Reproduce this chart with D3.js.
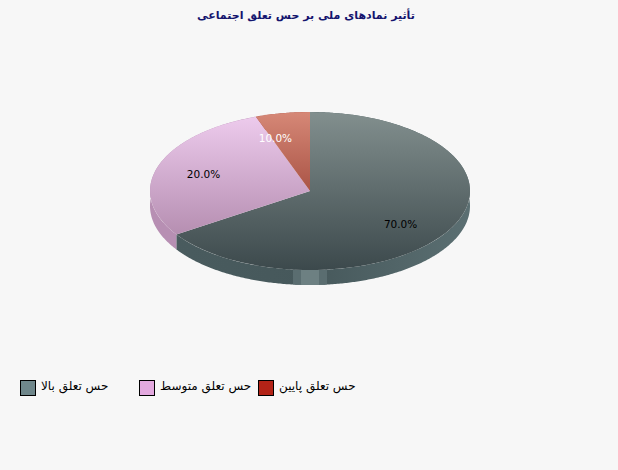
<!DOCTYPE html>
<html lang="fa">
<head>
<meta charset="UTF-8">
<title>Pie</title>
<script src="https://cdnjs.cloudflare.com/ajax/libs/d3/7.8.5/d3.min.js"></script>
<style>
    html, body { margin: 0; padding: 0; background: #f7f7f7; }
    svg { display: block; }
    text { font-family: "DejaVu Sans", sans-serif; }
</style>
</head>
<body>
<svg id="chart" width="618" height="470"></svg>
<script>
    const chartTitle = "تأثیر نمادهای ملی بر حس تعلق اجتماعی";
    const categories = ["حس تعلق بالا", "حس تعلق متوسط", "حس تعلق پایین"];
    const values = [70, 20, 10];
    const swatchColors = ["#6f878b", "#e3a9df", "#b32317"];
    const topStops = [["#828f8e", "#3c494c"], ["#efcdef", "#a57c9f"], ["#d68877", "#7e2015"]];
    const sideStops = [["#4a5c5f", "#46585b", "#5b6f72"], ["#b78fb3", "#b78fb3", "#b78fb3"], ["#a84f42", "#a84f42", "#a84f42"]];
    const labelColors = ["#000", "#000", "#fff"];

    const svg = d3.select("#chart");
    const cx = 310, cy = 191, rx = 160, ry = 79, depth = 15;

    // slices are cut at the true angle on screen, so convert it to the ellipse's own angle
    function ellipseAngle(a) {
        const t = Math.atan2(Math.sin(a) / rx, Math.cos(a) / ry);
        return t + 2 * Math.PI * Math.round((a - t) / (2 * Math.PI));
    }

    const slices = d3.pie().sort(null)(values);
    const defs = svg.append("defs");

    topStops.forEach((stops, i) => {
        const g = defs.append("linearGradient").attr("id", "top" + i)
            .attr("gradientUnits", "userSpaceOnUse")
            .attr("x1", 0).attr("y1", -1).attr("x2", 0).attr("y2", 1);
        g.append("stop").attr("offset", 0).attr("stop-color", stops[0]);
        g.append("stop").attr("offset", 1).attr("stop-color", stops[1]);
    });

    sideStops.forEach((stops, i) => {
        const g = defs.append("linearGradient").attr("id", "side" + i)
            .attr("gradientUnits", "userSpaceOnUse")
            .attr("x1", cx - rx).attr("y1", 0).attr("x2", cx + rx).attr("y2", 0);
        stops.forEach((c, j) => {
            g.append("stop").attr("offset", j / (stops.length - 1)).attr("stop-color", c);
        });
    });

    // side wall first, the top face covers whatever sticks out behind it
    const sideArea = d3.area()
        .x(t => cx + rx * Math.sin(t))
        .y0(t => cy - ry * Math.cos(t))
        .y1(t => cy - ry * Math.cos(t) + depth);

    slices.forEach((d, i) => {
        const t0 = ellipseAngle(d.startAngle), t1 = ellipseAngle(d.endAngle);
        const steps = d3.range(t0, t1, 0.01).concat([t1]);
        svg.append("path").attr("d", sideArea(steps)).attr("fill", `url(#side${i})`);
    });

    // specular band on the front of the wall
    const bandClip = defs.append("clipPath").attr("id", "wall");
    bandClip.append("path").attr("d", sideArea(d3.range(Math.PI / 2, 3 * Math.PI / 2, 0.01)));
    const wall = svg.append("g").attr("clip-path", "url(#wall)");
    wall.append("rect").attr("x", cx - 17).attr("y", cy + ry - 10).attr("width", 34).attr("height", depth + 12).attr("fill", "#5a6d70");
    wall.append("rect").attr("x", cx - 9).attr("y", cy + ry - 10).attr("width", 18).attr("height", depth + 12).attr("fill", "#6d8082");

    const arc = d3.arc().innerRadius(0).outerRadius(1);
    const face = svg.append("g").attr("transform", `translate(${cx},${cy}) scale(${rx},${ry})`);
    slices.forEach((d, i) => {
        face.append("path")
            .attr("d", arc({ startAngle: ellipseAngle(d.startAngle), endAngle: ellipseAngle(d.endAngle) }))
            .attr("fill", `url(#top${i})`);
    });

    // labels sit on the plain data angle at 0.7 of the radius
    slices.forEach((d, i) => {
        const mid = (d.startAngle + d.endAngle) / 2;
        svg.append("text")
            .attr("x", cx + 0.7 * rx * Math.sin(mid))
            .attr("y", cy - 0.7 * ry * Math.cos(mid) + 4)
            .attr("text-anchor", "middle")
            .attr("font-size", 10.5)
            .attr("fill", labelColors[i])
            .text(d.data.toFixed(1) + "%");
    });

    svg.append("text")
        .attr("x", 306).attr("y", 19)
        .attr("text-anchor", "middle")
        .attr("direction", "rtl")
        .attr("font-size", 11)
        .attr("font-weight", "bold")
        .attr("fill", "#14146e")
        .text(chartTitle);

    const legendX = d3.scaleOrdinal().domain(categories).range([20, 139, 258]);
    const legend = svg.append("g").selectAll("g").data(categories).enter().append("g")
        .attr("transform", d => `translate(${legendX(d)},380)`);
    legend.append("rect")
        .attr("x", 0.5).attr("y", 0.5).attr("width", 15).attr("height", 15)
        .attr("fill", (d, i) => swatchColors[i])
        .attr("stroke", "#000");
    legend.append("text")
        .attr("x", 21).attr("y", 9.5)
        .attr("font-size", 12)
        .attr("fill", "#000")
        .text(d => d);
</script>
</body>
</html>
